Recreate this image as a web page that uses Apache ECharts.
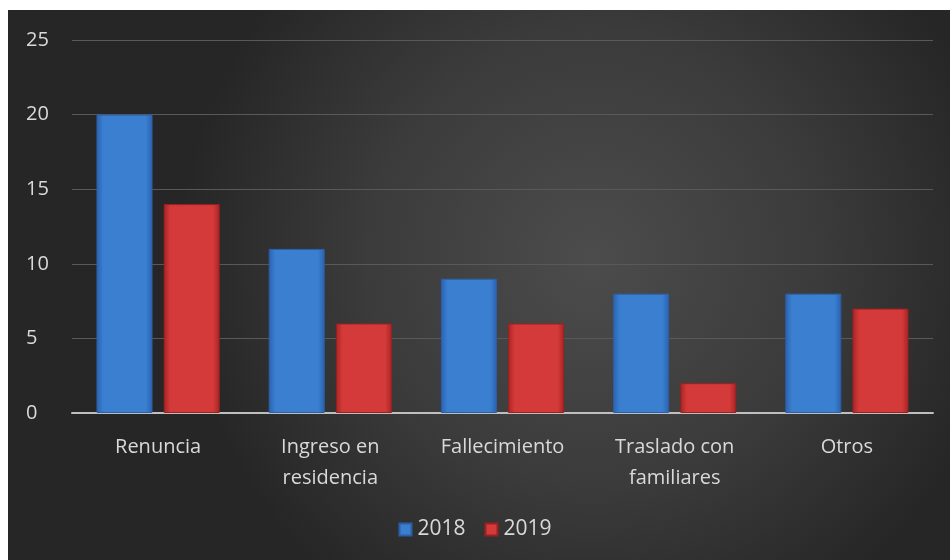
<!DOCTYPE html>
<html>
<head>
<meta charset="utf-8">
<script src="https://cdn.jsdelivr.net/npm/echarts@6/dist/echarts.min.js"></script>
<style>
  html, body { margin: 0; padding: 0; background: #ffffff; }
  #chart { width: 950px; height: 560px; }
</style>
</head>
<body>
<div id="chart"></div>
<script>
// Motivos de baja, comparación 2018 / 2019
const categories = ['Renuncia', 'Ingreso en\nresidencia', 'Fallecimiento', 'Traslado con\nfamiliares', 'Otros'];
const values2018 = [20, 11, 9, 8, 8];
const values2019 = [14, 6, 6, 2, 7];
const yTicks = { min: 0, max: 25, interval: 5 };

const chart = echarts.init(document.getElementById('chart'), null, { renderer: 'canvas' });

function barFill(edge, mid) {
  return new echarts.graphic.LinearGradient(0, 0, 1, 0, [
    { offset: 0, color: edge },
    { offset: 0.12, color: mid },
    { offset: 0.5, color: mid },
    { offset: 0.88, color: mid },
    { offset: 1, color: edge }
  ]);
}

const blueFill = barFill('#2a62b0', '#3a7fd0');
const redFill = barFill('#a82424', '#d43a3a');
const textColor = '#d9d9d9';
const font = '"Open Sans", "Liberation Sans", sans-serif';

chart.setOption({
  backgroundColor: '#ffffff',
  animation: false,
  graphic: [{
    type: 'rect',
    left: 8, top: 10, z: -10,
    shape: { width: 942, height: 550 },
    style: {
      fill: new echarts.graphic.RadialGradient(0.62, 0.45, 0.75, [
        { offset: 0, color: '#4c4c4c' },
        { offset: 0.55, color: '#3b3b3b' },
        { offset: 1, color: '#262626' }
      ])
    }
  }],
  grid: { left: 72, right: 17, top: 40, bottom: 147, containLabel: false },
  legend: {
    top: 514,
    left: 'center',
    itemWidth: 12, itemHeight: 12, itemGap: 19,
    icon: 'rect',
    textStyle: { color: textColor, fontSize: 21, fontFamily: font, padding: [0, 0, 0, 1] },
    data: ['2018', '2019']
  },
  xAxis: {
    type: 'category',
    data: categories,
    axisLine: { lineStyle: { color: '#bfbfbf', width: 2 } },
    axisTick: { show: false },
    axisLabel: { color: textColor, fontSize: 20, fontFamily: font, lineHeight: 31, margin: 19, interval: 0 }
  },
  yAxis: {
    type: 'value',
    min: yTicks.min, max: yTicks.max, interval: yTicks.interval,
    axisLine: { show: false },
    axisTick: { show: false },
    axisLabel: { color: textColor, fontSize: 20, fontFamily: font, margin: 46, align: 'left' },
    splitLine: { lineStyle: { color: '#595959', width: 1 } }
  },
  series: [
    {
      name: '2018', type: 'bar', data: values2018,
      barWidth: 56, barGap: '20%',
      itemStyle: { color: blueFill, borderColor: '#2c5fa8', borderWidth: 1 }
    },
    {
      name: '2019', type: 'bar', data: values2019,
      barWidth: 56,
      itemStyle: { color: redFill, borderColor: '#9c2020', borderWidth: 1 }
    }
  ]
});
</script>
</body>
</html>
